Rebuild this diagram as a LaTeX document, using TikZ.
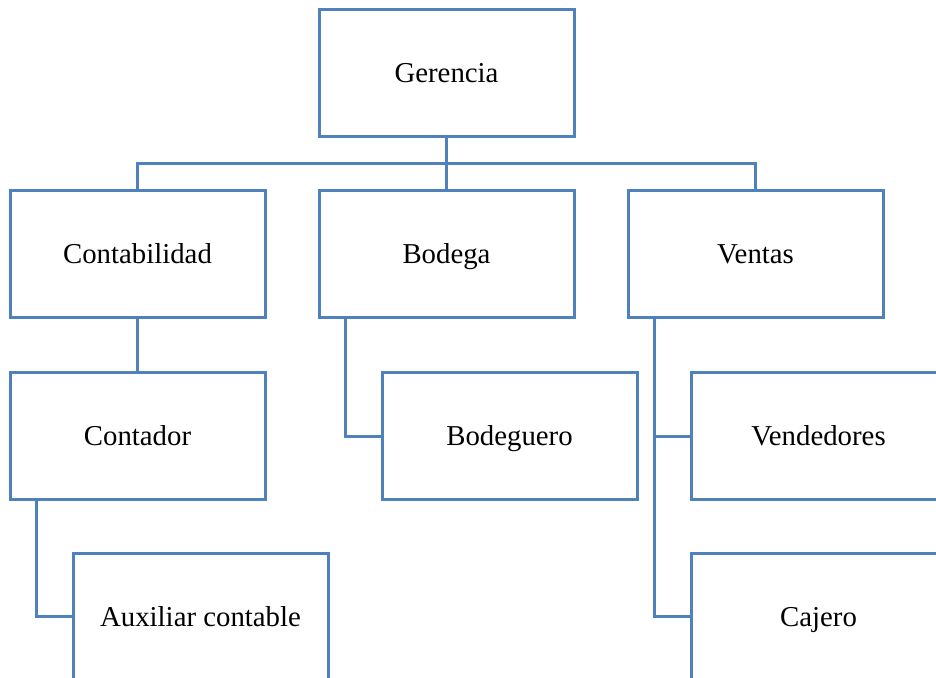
\documentclass[tikz,border=0pt]{standalone}
\usepackage{fontspec}
\setmainfont{Liberation Serif}
\definecolor{lineblue}{HTML}{4F81BD}
\begin{document}
\begin{tikzpicture}[x=0.5pt,y=-0.5pt,
  box/.style={draw=lineblue,line width=1.5pt,fill=white,minimum width=127.5pt,minimum height=63.5pt,inner sep=0pt,text height=9.5pt,text depth=0pt,font=\fontsize{14.4}{17}\selectfont},
  conn/.style={draw=lineblue,line width=1.5pt}]
\useasboundingbox (0,0) rectangle (936,678);
\clip (0,0) rectangle (936,678);
\node[box] (G) at (446.5,73.5) {Gerencia};
\node[box] (C) at (137.5,254.5) {Contabilidad};
\node[box] (B) at (446.5,254.5) {Bodega};
\node[box] (V) at (755.5,254.5) {Ventas};
\node[box] (Ct) at (137.5,436) {Contador};
\node[box] (Bq) at (509.5,436) {Bodeguero};
\node[box] (Vd) at (818.5,436) {Vendedores};
\node[box] (Ax) at (200.5,616.5) {Auxiliar contable};
\node[box] (Cj) at (818.5,616.5) {Cajero};
\coordinate (bus) at (446.5,164);
\coordinate (bS) at (345,318);
\coordinate (vS) at (654,318);
\coordinate (cS) at (36,499);
\draw[conn] (G.south) -- (B.north);
\draw[conn] (C.north) -- (C.north |- bus) -| (V.north);
\draw[conn] (C.south) -- (Ct.north);
\draw[conn] (bS) |- (Bq.west);
\draw[conn] (vS) |- (Cj.west);
\draw[conn] (vS |- Vd.west) -- (Vd.west);
\draw[conn] (cS) |- (Ax.west);
\end{tikzpicture}
\end{document}
